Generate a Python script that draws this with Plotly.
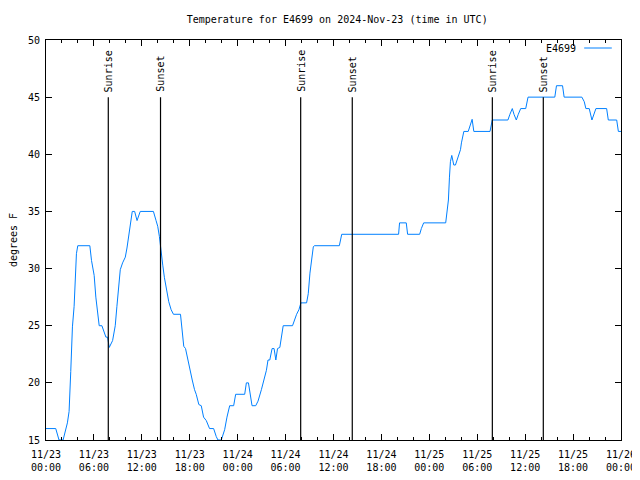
import plotly.graph_objects as go

# Hours since 2024-11-23 00:00 UTC and temperature (degrees F)
hours = [0, 1.22, 1.63, 2.14, 2.68, 2.89, 3.10, 3.31, 3.52, 3.64, 3.81, 3.98,
         5.49, 5.70, 6.03, 6.24, 6.45, 6.66, 7.0, 7.29, 7.50, 7.71, 7.92, 8.34,
         8.67, 8.88, 9.09, 9.30, 9.59, 9.93, 10.14, 10.43, 10.8, 11.1, 11.4, 11.8,
         13.45, 13.78, 13.99, 14.2, 14.41, 14.62, 14.83, 15.12, 15.37, 15.67, 15.96,
         16.84, 17.13, 17.25, 17.47, 17.76, 17.97, 18.31, 18.6, 18.81, 19.14, 19.44,
         19.73, 20.07, 20.48, 20.99, 21.32, 21.53, 21.95, 22.37, 22.66, 22.91, 23.0,
         23.5, 23.75, 24.88, 25.09, 25.35, 25.51, 25.8, 26.26, 26.55, 26.97, 27.3,
         27.6, 27.8, 28.02, 28.31, 28.56, 28.78, 28.99, 29.28, 29.49, 29.7, 30.87,
         31.16, 31.38, 31.67, 31.92, 32.63, 32.84, 33.05, 33.26, 33.47, 33.6, 36.73,
         37.03, 44.15, 44.27, 45.11, 45.28, 46.79, 47.0, 47.29, 50.05, 50.22, 50.39,
         50.52, 50.64, 50.81, 50.93, 51.06, 51.27, 51.48, 51.69, 51.9, 52.02, 52.19,
         52.32, 52.87, 53.03, 53.15, 53.36, 53.57, 55.6, 55.88, 57.84, 58.09, 58.39,
         58.6, 58.89, 59.14, 59.44, 60.07, 60.36, 63.71, 63.92, 64.68, 64.88, 67.1,
         67.4, 67.6, 68.02, 68.36, 68.86, 70.2, 70.41, 71.46, 71.67, 72]
temps = [16, 16, 15, 15, 16.5, 17.5, 21, 24.9, 26.7, 28.2, 31.3, 32,
         32, 30.7, 29.4, 27.5, 26.4, 25, 25, 24.4, 24, 24, 23.1, 23.7,
         25, 26.7, 28.6, 29.9, 30.5, 31, 31.8, 33.4, 35, 35, 34.2, 35,
         35, 34.2, 33.7, 32.8, 31.3, 30.3, 29.2, 28.1, 27.1, 26.4, 26,
         26, 24.3, 23.2, 23, 22, 21.1, 20.25, 19.4, 19, 18.1, 18,
         17, 16.7, 16, 16, 15.3, 15, 15, 15.9, 17, 17.8, 18,
         18, 19, 19, 20, 20, 19.1, 18, 18, 18.4, 19.4, 20.25,
         21.1, 22, 22, 23, 23, 22, 23, 23.1, 24, 25, 25,
         25.6, 26, 26.4, 27, 27, 27.8, 29.6, 30.75, 31.9, 32, 32,
         33, 33, 34, 34, 33, 33, 33.5, 34, 34, 34.8, 36,
         38, 39.35, 39.9, 39.5, 39.06, 39.06, 39.5, 39.8, 40.4, 41, 41.5,
         42, 42, 42.4, 42.75, 43.06, 42, 42, 43, 43, 43.5, 44,
         43.5, 43, 43.5, 44, 44, 45, 45, 46, 46, 45, 45,
         44.6, 44, 44, 43, 44, 44, 43, 43, 42, 42]

sun_events = ["Sunrise", "Sunset", "Sunrise", "Sunset", "Sunrise", "Sunset"]
sun_hours = [7.80, 14.34, 31.89, 38.35, 55.89, 62.27]

tick_hours = [0, 6, 12, 18, 24, 30, 36, 42, 48, 54, 60, 66, 72]
tick_labels = ["11/23<br>00:00", "11/23<br>06:00", "11/23<br>12:00", "11/23<br>18:00",
               "11/24<br>00:00", "11/24<br>06:00", "11/24<br>12:00", "11/24<br>18:00",
               "11/25<br>00:00", "11/25<br>06:00", "11/25<br>12:00", "11/25<br>18:00",
               "11/26<br>00:00"]

FONT = "DejaVu Sans Mono"
LINE_COLOR = "#0080ff"

fig = go.Figure()
fig.add_trace(go.Scatter(x=hours, y=temps, mode="lines", name="E4699",
                         line=dict(color=LINE_COLOR, width=1), showlegend=False))

for name, h in zip(sun_events, sun_hours):
    fig.add_shape(type="line", x0=h, x1=h, y0=15, y1=45, xref="x", yref="y",
                  line=dict(color="black", width=1.2))
    fig.add_annotation(x=h, y=45, xref="x", yref="y", text=name, textangle=-90,
                       showarrow=False, yanchor="bottom", xanchor="center",
                       yshift=3, font=dict(family=FONT, size=10, color="black"))

# gnuplot-style legend: text then line sample
fig.add_annotation(x=0.925, y=0.98, xref="paper", yref="paper", text="E4699",
                   showarrow=False, xanchor="right", yanchor="middle",
                   font=dict(family=FONT, size=10, color="black"))
fig.add_shape(type="line", xref="paper", yref="paper", x0=0.936, x1=0.984,
              y0=0.98, y1=0.98, line=dict(color=LINE_COLOR, width=1))

axis_common = dict(showline=True, linecolor="black", linewidth=1, mirror="allticks",
                   ticks="inside", ticklen=6, tickcolor="black", tickwidth=1,
                   showgrid=False, zeroline=False,
                   tickfont=dict(family=FONT, size=10, color="black"))

fig.update_xaxes(range=[0, 72], tickvals=tick_hours, ticktext=tick_labels,
                 ticklabelstandoff=5,
                 minor=dict(dtick=2, tick0=0, ticks="inside", ticklen=3,
                            tickcolor="black", showgrid=False),
                 **axis_common)
fig.update_yaxes(range=[15, 50], dtick=5, tick0=15, ticklabelstandoff=3,
                 minor=dict(dtick=1, ticks="", showgrid=False),
                 title=dict(text="degrees F", font=dict(family=FONT, size=10, color="black"),
                            standoff=14),
                 **axis_common)

# page body adds an 8px offset, so the figure is 8px smaller in each direction
fig.update_layout(
    width=632, height=472,
    margin=dict(l=38, r=19, t=32, b=40, autoexpand=False),
    paper_bgcolor="white", plot_bgcolor="white",
    title=dict(text="Temperature for E4699 on 2024-Nov-23 (time in UTC)",
               x=0.5208, xanchor="center", y=1 - 11 / 472, yanchor="middle",
               font=dict(family=FONT, size=10, color="black")),
    font=dict(family=FONT, size=10, color="black"),
)

fig.write_html("out.html")
